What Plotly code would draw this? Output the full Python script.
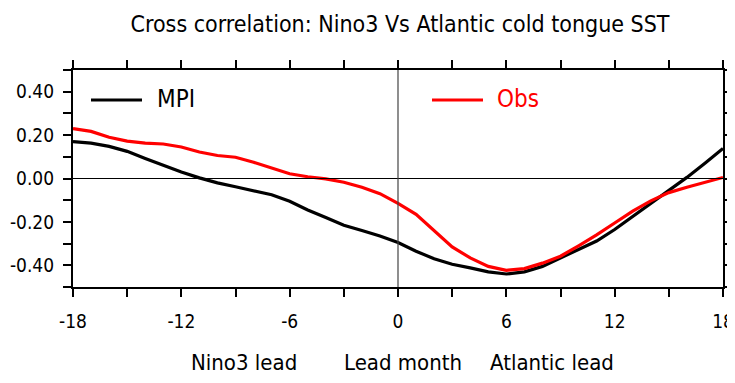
import plotly.graph_objects as go

lead_months = list(range(-18, 19))
mpi = [0.170, 0.163, 0.148, 0.125, 0.092, 0.060, 0.030, 0.003, -0.020, -0.038,
       -0.055, -0.075, -0.105, -0.145, -0.180, -0.215, -0.240, -0.265, -0.295,
       -0.335, -0.370, -0.395, -0.412, -0.430, -0.440, -0.430, -0.405, -0.366,
       -0.330, -0.288, -0.235, -0.175, -0.115, -0.055, 0.005, 0.070, 0.138]
obs = [0.230, 0.217, 0.190, 0.172, 0.163, 0.159, 0.145, 0.122, 0.106, 0.098,
       0.075, 0.048, 0.022, 0.008, -0.002, -0.017, -0.040, -0.070, -0.115,
       -0.165, -0.240, -0.315, -0.366, -0.405, -0.423, -0.415, -0.390, -0.358,
       -0.310, -0.260, -0.205, -0.150, -0.103, -0.065, -0.040, -0.018, 0.005]

x_tickvals = list(range(-18, 19, 3))
x_ticktext = ["-18", "", "-12", "", "-6", "", "0", "", "6", "", "12", "", "18"]
y_tickvals = [-0.5, -0.4, -0.3, -0.2, -0.1, 0.0, 0.1, 0.2, 0.3, 0.4, 0.5]
y_ticktext = ["", "-0.40", "", "-0.20", "", "0.00", "", "0.20", "", "0.40", ""]

FONT = "DejaVu Sans Condensed, DejaVu Sans, sans-serif"
OFF = 8  # default page body margin
W, H = 735 - OFF, 383 - OFF
L, R, T, B = 73, 723, 70, 287  # plot area in window pixels
PW, PH = R - L, B - T

fig = go.Figure()
fig.add_trace(go.Scatter(x=lead_months, y=mpi, mode="lines", name="MPI",
                         line=dict(color="black", width=3.2)))
fig.add_trace(go.Scatter(x=lead_months, y=obs, mode="lines", name="Obs",
                         line=dict(color="#ff0000", width=3.2)))

fig.add_hline(y=0, line=dict(color="black", width=1.2))
fig.add_vline(x=0, line=dict(color="#444444", width=1.2))

axis_common = dict(showline=True, linecolor="black", linewidth=2.2, mirror="ticks",
                   ticks="outside", ticklen=8, tickwidth=2, tickcolor="black",
                   showgrid=False, zeroline=False, automargin=False)

fig.update_xaxes(range=[-18, 18], tickmode="array", tickvals=x_tickvals,
                 ticktext=x_ticktext, ticklabelstandoff=8,
                 tickfont=dict(family=FONT, size=19, color="black"), **axis_common)
fig.update_yaxes(range=[-0.5, 0.5], tickmode="array", tickvals=y_tickvals,
                 ticktext=y_ticktext, ticklabelstandoff=5,
                 tickfont=dict(family=FONT, size=19, color="black"), **axis_common)

def px_x(p):
    return (p - L) / PW

def px_y(p):
    return (B - p) / PH

for txt, xc in [("Nino3 lead", 244), ("Lead month", 402.5), ("Atlantic lead", 552)]:
    fig.add_annotation(text=txt, xref="paper", yref="paper",
                       x=px_x(xc), y=px_y(362),
                       showarrow=False, xanchor="center", yanchor="middle",
                       font=dict(family=FONT, size=22, color="black"))

# legend keys
legend_items = [("MPI", "black", 91, 142, 155), ("Obs", "#ff0000", 432, 483, 495)]
for name, col, x0, x1, xt in legend_items:
    fig.add_shape(type="line", xref="paper", yref="paper",
                  x0=px_x(x0), x1=px_x(x1), y0=px_y(100), y1=px_y(100),
                  line=dict(color=col, width=3.2))
    fig.add_annotation(text=name, xref="paper", yref="paper",
                       x=px_x(xt), y=px_y(99), showarrow=False,
                       xanchor="left", yanchor="middle",
                       font=dict(family=FONT, size=24, color=col))

fig.update_layout(
    width=W, height=H,
    margin=dict(l=L - OFF, r=735 - R, t=T - OFF, b=383 - B),
    paper_bgcolor="white", plot_bgcolor="white",
    showlegend=False,
    title=dict(text="Cross correlation: Nino3 Vs Atlantic cold tongue SST",
               x=(400 - OFF) / W, xanchor="center", y=1 - (24 - OFF) / H, yanchor="middle",
               font=dict(family=FONT, size=23, color="black")),
)

fig.write_html("out.html")
